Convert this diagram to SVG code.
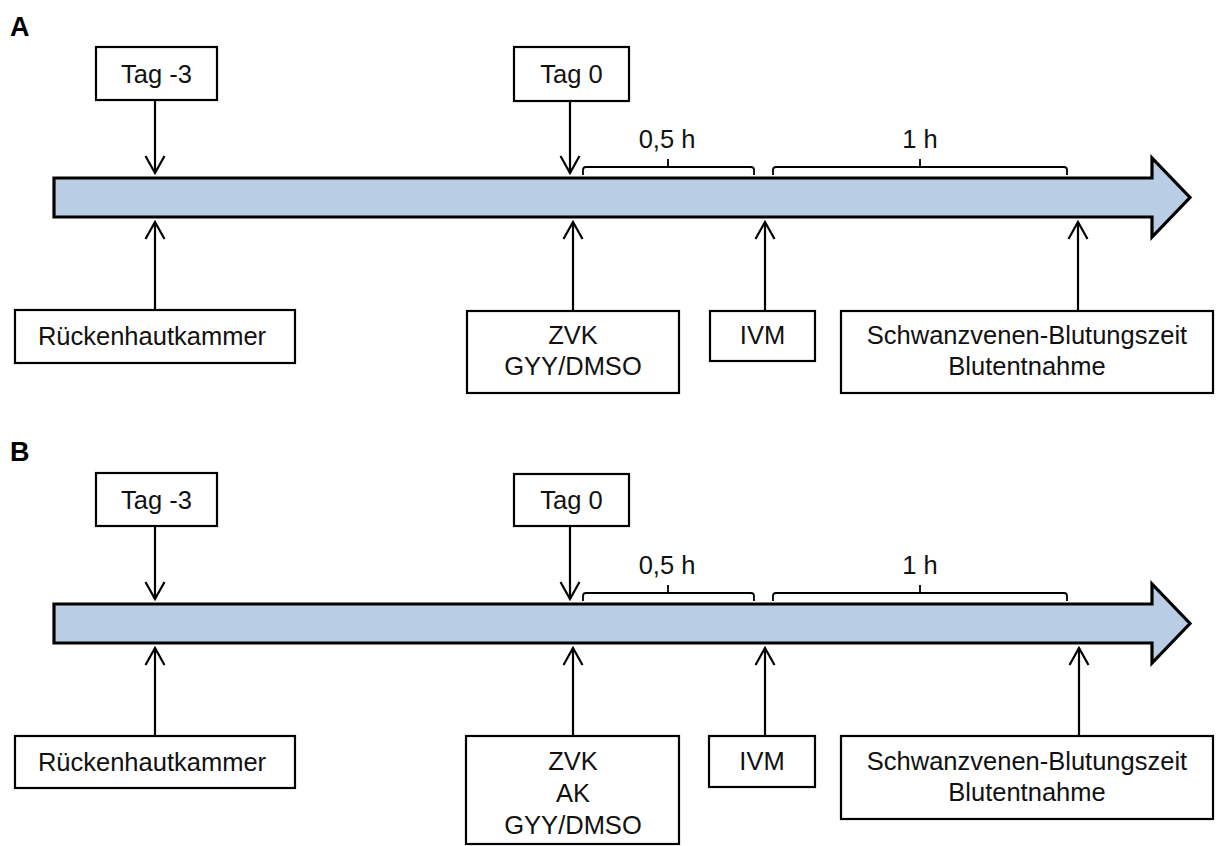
<svg xmlns="http://www.w3.org/2000/svg" width="1216" height="846" viewBox="0 0 1216 846">
<style>
text{font-family:"Liberation Sans",Arial,sans-serif;font-size:25.5px;fill:#111;text-anchor:middle}
.lbl{font-weight:bold;font-size:27px;text-anchor:start;fill:#000}
.box{fill:#fff;stroke:#000;stroke-width:2.2}
.tl{fill:#B9CDE5;stroke:#000;stroke-width:3.2;stroke-linejoin:miter}
.con{fill:none;stroke:#000;stroke-width:2.2}
.br{fill:none;stroke:#000;stroke-width:1.8}
</style>
<defs>
<marker id="ah" viewBox="0 0 20 22" refX="18" refY="11" markerWidth="20" markerHeight="22" markerUnits="userSpaceOnUse" orient="auto">
<path d="M1,1.5 L18,11 L1,20.5" fill="none" stroke="#000" stroke-width="2.2"/>
</marker>
</defs>
<rect width="1216" height="846" fill="#fff"/>

<!-- Panel A -->
<g id="panelA">
<text class="lbl" x="10" y="36">A</text>
<g id="A-timeline"><path class="tl" d="M54,178 H1152 V158 L1190,197.5 L1152,237 V217 H54 Z"/></g>
<g id="A-tagm3"><rect class="box" x="96" y="47" width="121" height="53"/><text x="156.5" y="83">Tag -3</text></g>
<g id="A-tag0"><rect class="box" x="514" y="47" width="115" height="54"/><text x="571.5" y="83">Tag 0</text></g>
<g id="A-brace05"><path class="br" d="M583,175 V170 Q583,167 586,167 H751 Q754,167 754,170 V175 M668,167 V159"/><text x="667" y="148">0,5 h</text></g>
<g id="A-brace1"><path class="br" d="M773,175 V170 Q773,167 776,167 H1064 Q1067,167 1067,170 V175 M920,167 V159"/><text x="920" y="148">1 h</text></g>
<g id="A-rueck"><rect class="box" x="15" y="310" width="280" height="53"/><text x="152" y="345">Rückenhautkammer</text></g>
<g id="A-zvk"><rect class="box" x="467" y="311" width="212" height="82"/><text x="573" y="344">ZVK</text><text x="573" y="375">GYY/DMSO</text></g>
<g id="A-ivm"><rect class="box" x="710" y="311" width="105" height="50"/><text x="762.5" y="344">IVM</text></g>
<g id="A-schwanz"><rect class="box" x="841" y="311" width="372" height="82"/><text x="1027" y="344">Schwanzvenen-Blutungszeit</text><text x="1027" y="375">Blutentnahme</text></g>
</g>

<!-- Panel B -->
<g id="panelB">
<text class="lbl" x="10" y="461">B</text>
<g id="B-timeline"><path class="tl" d="M54,604 H1152 V584 L1190,623.5 L1152,663 V643 H54 Z"/></g>
<g id="B-tagm3"><rect class="box" x="96" y="473" width="121" height="53"/><text x="156.5" y="509">Tag -3</text></g>
<g id="B-tag0"><rect class="box" x="514" y="474" width="115" height="52"/><text x="571.5" y="509">Tag 0</text></g>
<g id="B-brace05"><path class="br" d="M583,601 V596 Q583,593 586,593 H751 Q754,593 754,596 V601 M668,593 V585"/><text x="667" y="574">0,5 h</text></g>
<g id="B-brace1"><path class="br" d="M773,601 V596 Q773,593 776,593 H1064 Q1067,593 1067,596 V601 M920,593 V585"/><text x="920" y="574">1 h</text></g>
<g id="B-rueck"><rect class="box" x="15" y="736" width="280" height="52"/><text x="152" y="771">Rückenhautkammer</text></g>
<g id="B-zvk"><rect class="box" x="466" y="736" width="213" height="108"/><text x="573" y="770">ZVK</text><text x="573" y="802">AK</text><text x="573" y="834">GYY/DMSO</text></g>
<g id="B-ivm"><rect class="box" x="709" y="736" width="106" height="51"/><text x="762" y="770">IVM</text></g>
<g id="B-schwanz"><rect class="box" x="841" y="736" width="372" height="83"/><text x="1027" y="770">Schwanzvenen-Blutungszeit</text><text x="1027" y="801">Blutentnahme</text></g>
</g>

<g id="connectors">
<line class="con" x1="155" y1="100" x2="155" y2="173" marker-end="url(#ah)"/>
<line class="con" x1="570" y1="101" x2="570" y2="173" marker-end="url(#ah)"/>
<line class="con" x1="155" y1="310" x2="155" y2="222" marker-end="url(#ah)"/>
<line class="con" x1="573" y1="311" x2="573" y2="222" marker-end="url(#ah)"/>
<line class="con" x1="765" y1="311" x2="765" y2="222" marker-end="url(#ah)"/>
<line class="con" x1="1078" y1="311" x2="1078" y2="222" marker-end="url(#ah)"/>

<line class="con" x1="155" y1="526" x2="155" y2="599" marker-end="url(#ah)"/>
<line class="con" x1="570" y1="526" x2="570" y2="599" marker-end="url(#ah)"/>
<line class="con" x1="155" y1="736" x2="155" y2="648" marker-end="url(#ah)"/>
<line class="con" x1="573" y1="736" x2="573" y2="648" marker-end="url(#ah)"/>
<line class="con" x1="765" y1="736" x2="765" y2="648" marker-end="url(#ah)"/>
<line class="con" x1="1079" y1="736" x2="1079" y2="648" marker-end="url(#ah)"/>
</g>
</svg>
